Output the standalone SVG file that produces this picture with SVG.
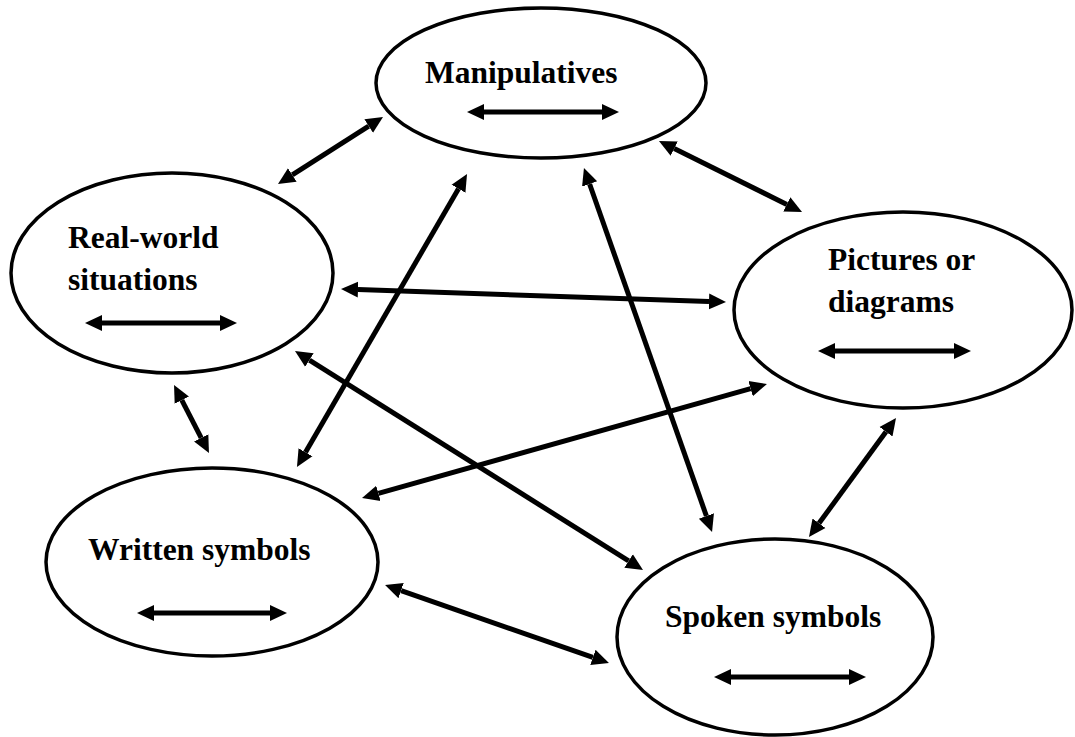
<svg xmlns="http://www.w3.org/2000/svg" width="1075" height="737" viewBox="0 0 1075 737">
<style>
.node ellipse{fill:#fff;stroke:#000;stroke-width:3.5}
.lbl{font-family:"Liberation Serif","Times New Roman",serif;font-weight:bold;font-size:31.5px;fill:#000}
.arr{stroke:#000;stroke-width:5;fill:none;marker-start:url(#ah);marker-end:url(#ah)}
</style>
<defs>
<marker id="ah" markerUnits="userSpaceOnUse" viewBox="0 -9 18 18" markerWidth="18" markerHeight="18" refX="0" refY="0" orient="auto-start-reverse">
<path d="M0,-8 L17,0 L0,8 Z" fill="#000"/>
</marker>
</defs>
<rect width="1075" height="737" fill="#fff"/>
<g id="node-manipulatives" class="node">
<ellipse cx="541" cy="83" rx="165" ry="75"/>
<text class="lbl" x="425" y="83">Manipulatives</text>
<path class="arr" d="M484,112 L602,112"/>
</g>
<g id="node-realworld" class="node">
<ellipse cx="172" cy="273" rx="161" ry="100"/>
<text class="lbl" x="68" y="248">Real-world</text>
<text class="lbl" x="68" y="290">situations</text>
<path class="arr" d="M102,323 L220,323"/>
</g>
<g id="node-pictures" class="node">
<ellipse cx="903" cy="310" rx="169" ry="98"/>
<text class="lbl" x="828" y="270">Pictures or</text>
<text class="lbl" x="828" y="312">diagrams</text>
<path class="arr" d="M835,351 L954,351"/>
</g>
<g id="node-written" class="node">
<ellipse cx="212" cy="562" rx="166" ry="94"/>
<text class="lbl" x="88" y="560">Written symbols</text>
<path class="arr" d="M154,613 L270,613"/>
</g>
<g id="node-spoken" class="node">
<ellipse cx="775" cy="637" rx="158" ry="98"/>
<text class="lbl" x="665" y="627">Spoken symbols</text>
<path class="arr" d="M731,677 L849,677"/>
</g>
<g id="connectors">
<path class="arr" d="M292.3,174.9 L368.7,126.1"/>
<path class="arr" d="M305.5,452.3 L458.5,188.7"/>
<path class="arr" d="M589.6,184 L706.4,516"/>
<path class="arr" d="M674.2,148.6 L786.8,204.4"/>
<path class="arr" d="M358,289.6 L709,301.4"/>
<path class="arr" d="M309.4,360.1 L628.6,560.9"/>
<path class="arr" d="M378.4,493.4 L750.6,388.6"/>
<path class="arr" d="M181.8,400.1 L201.2,437.9"/>
<path class="arr" d="M886,431.7 L819,523.3"/>
<path class="arr" d="M401.1,590.6 L592.9,657.4"/>
</g>
</svg>
